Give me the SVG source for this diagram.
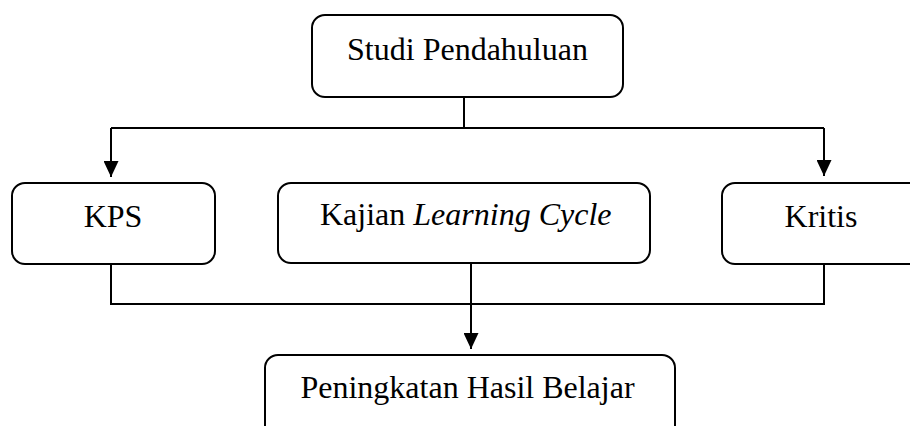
<svg xmlns="http://www.w3.org/2000/svg" width="910" height="426" viewBox="0 0 910 426">
<style>
.box{fill:#fff;stroke:#000;stroke-width:2}
.t{font-family:"Liberation Serif","Times New Roman",serif;font-size:32px;fill:#000}
.c{fill:none;stroke:#000;stroke-width:2}
</style>
<defs>
<marker id="ah" markerUnits="userSpaceOnUse" markerWidth="16" markerHeight="15" refX="16" refY="7.5" orient="auto">
<path d="M0,0 L16,7.5 L0,15 Z" fill="#000"/>
</marker>
</defs>
<rect width="910" height="426" fill="#fff"/>
<g id="connectors">
<path class="c" d="M464,97 V128"/>
<path class="c" d="M111,128 H824"/>
<path class="c" d="M111,128 V177" marker-end="url(#ah)"/>
<path class="c" d="M824,128 V176" marker-end="url(#ah)"/>
<path class="c" d="M111,264 V304 H824 V264"/>
<path class="c" d="M471,263 V349" marker-end="url(#ah)"/>
</g>
<g id="studi">
<rect class="box" x="312" y="15" width="311" height="82" rx="13"/>
<text class="t" x="467.5" y="60" text-anchor="middle">Studi Pendahuluan</text>
</g>
<g id="kps">
<rect class="box" x="12" y="183" width="203" height="81" rx="13"/>
<text class="t" x="113" y="227" text-anchor="middle">KPS</text>
</g>
<g id="kajian">
<rect class="box" x="278" y="183" width="372" height="80" rx="13"/>
<text class="t" x="320" y="225">Kajian <tspan font-style="italic">Learning Cycle</tspan></text>
</g>
<g id="kritis">
<rect class="box" x="722" y="183" width="210" height="81" rx="13"/>
<text class="t" x="821" y="227" text-anchor="middle">Kritis</text>
</g>
<g id="hasil">
<rect class="box" x="265" y="355" width="410" height="90" rx="13"/>
<text class="t" x="467.5" y="398" text-anchor="middle">Peningkatan Hasil Belajar</text>
</g>
</svg>
